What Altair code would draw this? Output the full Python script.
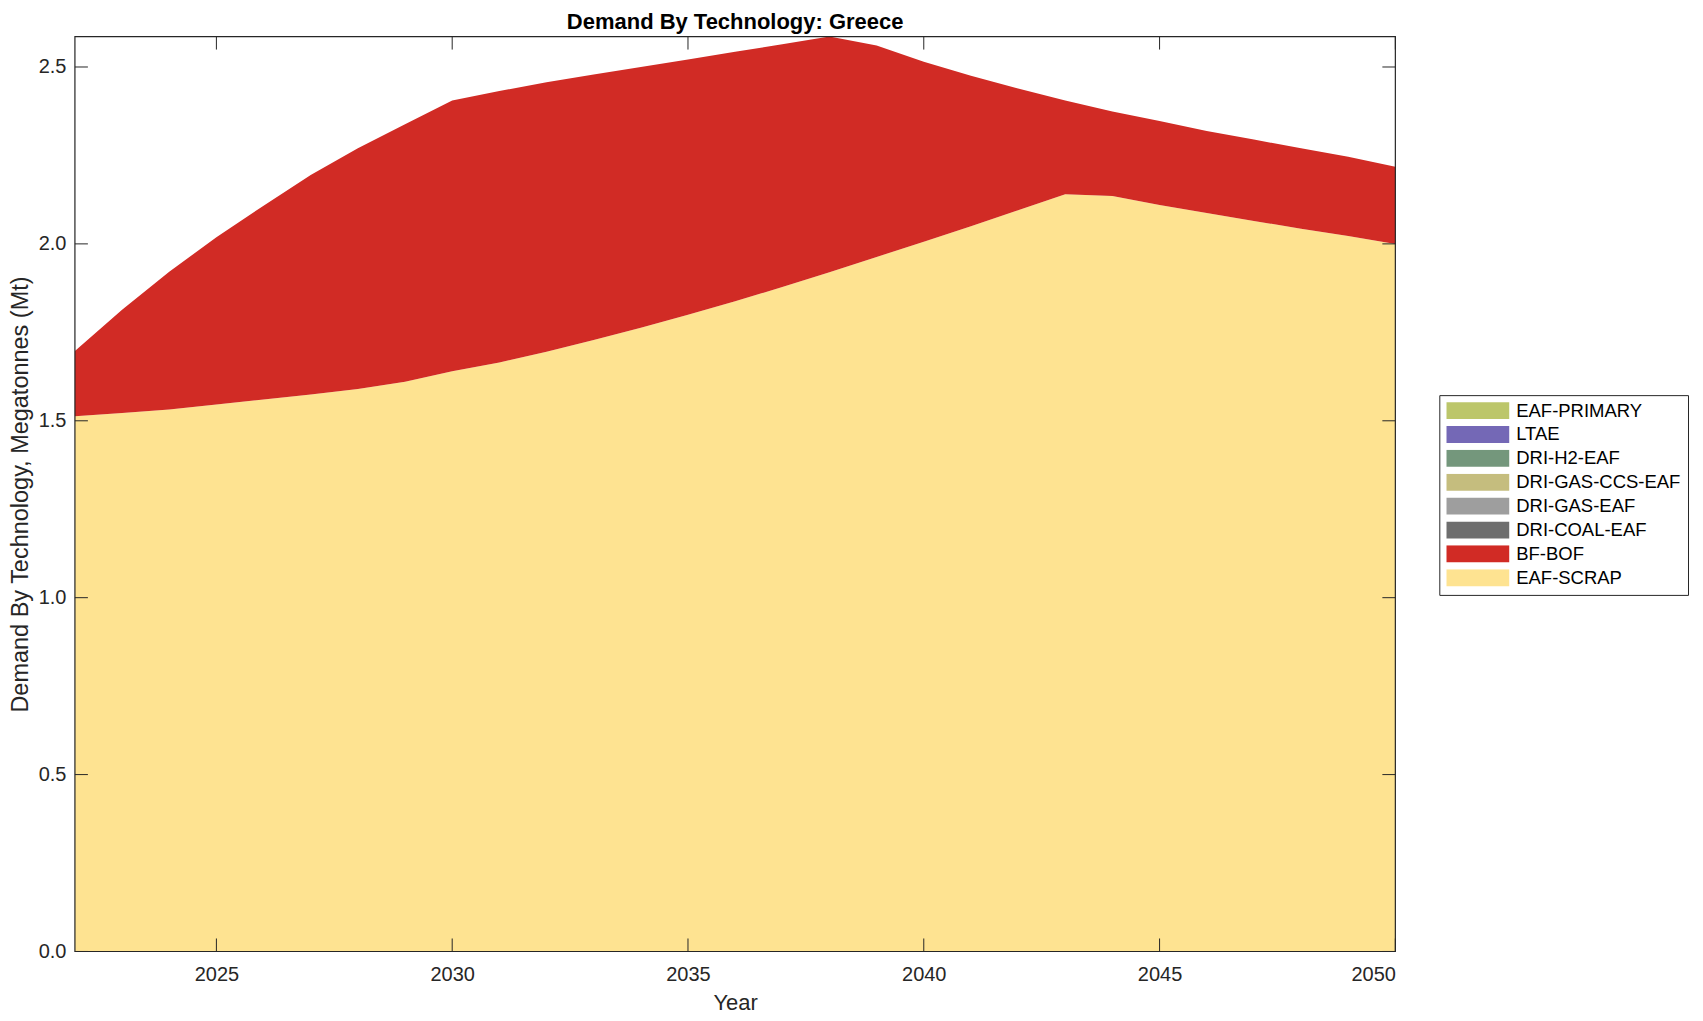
import altair as alt
import pandas as pd

# ---- data ----
years = list(range(2022, 2051))

eaf_scrap = [1.513, 1.522, 1.532, 1.546, 1.560, 1.574, 1.590, 1.610, 1.640, 1.665,
             1.695, 1.728, 1.763, 1.800, 1.838, 1.878, 1.920, 1.963, 2.006, 2.050,
             2.095, 2.140, 2.135, 2.110, 2.087, 2.065, 2.043, 2.022, 2.000]
bf_bof = [0.184, 0.292, 0.389, 0.473, 0.548, 0.621, 0.680, 0.728, 0.765, 0.767,
          0.762, 0.751, 0.737, 0.721, 0.705, 0.686, 0.666, 0.598, 0.509, 0.425,
          0.344, 0.265, 0.239, 0.237, 0.232, 0.230, 0.227, 0.224, 0.218]
zeros = [0.0] * len(years)
dri_coal_eaf = zeros
dri_gas_eaf = zeros
dri_gas_ccs_eaf = zeros
dri_h2_eaf = zeros
ltae = zeros
eaf_primary = zeros

# legend order (top to bottom) and colours
legend_order = ["EAF-PRIMARY", "LTAE", "DRI-H2-EAF", "DRI-GAS-CCS-EAF",
                "DRI-GAS-EAF", "DRI-COAL-EAF", "BF-BOF", "EAF-SCRAP"]
colors = ["#BCC66A", "#7468B6", "#74977C", "#C5BD7E",
          "#9E9E9E", "#6E6E6E", "#D12B25", "#FEE391"]

series = {
    "EAF-SCRAP": eaf_scrap,
    "BF-BOF": bf_bof,
    "DRI-COAL-EAF": dri_coal_eaf,
    "DRI-GAS-EAF": dri_gas_eaf,
    "DRI-GAS-CCS-EAF": dri_gas_ccs_eaf,
    "DRI-H2-EAF": dri_h2_eaf,
    "LTAE": ltae,
    "EAF-PRIMARY": eaf_primary,
}

title_text = "Demand By Technology: Greece"
x_ticks = [2025, 2030, 2035, 2040, 2045, 2050]
y_ticks = [0.0, 0.5, 1.0, 1.5, 2.0, 2.5]

rows = []
for rank, (tech, vals) in enumerate(series.items()):
    for yr, v in zip(years, vals):
        rows.append({"year": yr, "value": v, "tech": tech, "rank": rank})
df = pd.DataFrame(rows)

ymax = max(a + b for a, b in zip(eaf_scrap, bf_bof))

W, H = 1322, 916
TICK = 13
FONT = "Liberation Sans"
INK = "#262626"

x_enc = alt.X(
    "year:Q",
    scale=alt.Scale(domain=[2022, 2050], nice=False, zero=False),
    axis=alt.Axis(values=x_ticks, format="d", tickSize=0, domain=False, grid=False,
                  labelFontSize=20, labelPadding=13, labelColor=INK, labelFont=FONT,
                  title="Year", titleFontSize=22, titleFontWeight="normal",
                  titleColor=INK, titleFont=FONT, titlePadding=8),
)
y_enc = alt.Y(
    "value:Q",
    stack="zero",
    scale=alt.Scale(domain=[0, ymax], nice=False),
    axis=alt.Axis(values=y_ticks, format=".1f", tickSize=0, domain=False, grid=False,
                  labelFontSize=20, labelPadding=9, labelColor=INK, labelFont=FONT,
                  title="Demand By Technology, Megatonnes (Mt)", titleFontSize=23.5,
                  titleFontWeight="normal", titleColor=INK, titleFont=FONT,
                  titlePadding=6),
)

area = alt.Chart(df).mark_area(interpolate="linear").encode(
    x=x_enc,
    y=y_enc,
    color=alt.Color(
        "tech:N",
        scale=alt.Scale(domain=legend_order, range=colors),
        legend=alt.Legend(
            title=None, orient="none", legendX=1366, legendY=359,
            symbolType="M-1,-0.27L1,-0.27L1,0.27L-1,0.27Z", symbolSize=3969,
            symbolStrokeWidth=0, symbolOpacity=1, clipHeight=17, rowPadding=4.9,
            labelFontSize=18.5, labelFont=FONT, labelColor="black", labelOffset=7,
            padding=7, strokeColor=INK, fillColor="white", labelLimit=300,
        ),
    ),
    order=alt.Order("rank:Q", sort="ascending"),
)

xt = pd.DataFrame({"year": x_ticks})
yt = pd.DataFrame({"value": y_ticks})

tick_bottom = alt.Chart(xt).mark_rule(color=INK, strokeWidth=1).encode(
    x=x_enc, y=alt.value(H), y2=alt.value(H - TICK))
tick_top = alt.Chart(xt).mark_rule(color=INK, strokeWidth=1).encode(
    x=x_enc, y=alt.value(0), y2=alt.value(TICK))
tick_left = alt.Chart(yt).mark_rule(color=INK, strokeWidth=1).encode(
    y=alt.Y("value:Q"), x=alt.value(0), x2=alt.value(TICK))
tick_right = alt.Chart(yt).mark_rule(color=INK, strokeWidth=1).encode(
    y=alt.Y("value:Q"), x=alt.value(W - TICK), x2=alt.value(W))

frame = alt.Chart(pd.DataFrame({"f": [0]})).mark_rect(
    fill="white", fillOpacity=0, stroke=INK, strokeWidth=1.2).encode(
    x=alt.value(0), x2=alt.value(W), y=alt.value(0), y2=alt.value(H))

title = alt.Chart(pd.DataFrame({"t": [title_text]})).mark_text(
    font=FONT, fontSize=22, fontWeight="bold", color="black",
    align="center", baseline="alphabetic").encode(
    text="t:N", x=alt.value(W / 2), y=alt.value(-7.7))

chart = alt.layer(area, tick_bottom, tick_top, tick_left, tick_right, frame, title).properties(
    width=W, height=H,
    padding={"left": 67, "top": 28, "right": 300, "bottom": 62},
    autosize=alt.AutoSizeParams(type="none"),
).configure(font=FONT).configure_view(stroke="transparent")

chart.save("out.html", embed_options={"renderer": "svg", "actions": False})
